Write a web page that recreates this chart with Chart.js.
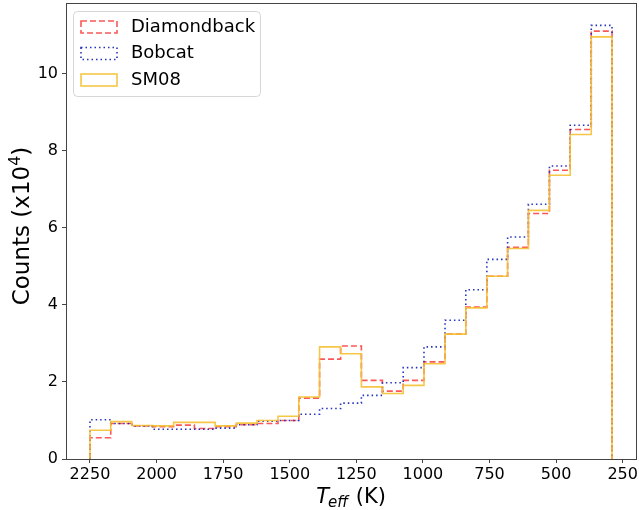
<!DOCTYPE html>
<html>
<head>
<meta charset="utf-8">
<script src="https://cdn.jsdelivr.net/npm/chart.js@4/dist/chart.umd.min.js"></script>
<style>
  html, body { margin: 0; padding: 0; background: #fff; }
  #wrap { width: 639px; height: 510px; }
</style>
</head>
<body>
<div id="wrap"><canvas id="teff" width="639" height="510"></canvas></div>
<script>
// bin edges in K (25 bins, hot to cold)
const binEdges = [2250, 2172, 2093, 2015, 1936, 1858, 1780, 1701, 1623, 1544, 1466, 1388, 1309,
  1231, 1152, 1074, 996, 917, 839, 760, 682, 604, 525, 447, 368, 290];

// counts in units of 10^4, one per bin
const diamondback = [0.55, 0.92, 0.86, 0.84, 0.88, 0.79, 0.84, 0.89, 0.92, 1.00, 1.58, 2.59, 2.93,
  2.04, 1.76, 2.04, 2.52, 3.24, 3.94, 4.74, 5.49, 6.37, 7.49, 8.55, 11.10];
const bobcat = [1.02, 0.92, 0.86, 0.77, 0.77, 0.77, 0.80, 0.89, 0.98, 1.00, 1.16, 1.31, 1.45,
  1.65, 1.98, 2.37, 2.91, 3.60, 4.39, 5.18, 5.76, 6.61, 7.60, 8.66, 11.25];
const sm08 = [0.745, 0.97, 0.87, 0.86, 0.95, 0.95, 0.86, 0.93, 1.00, 1.11, 1.61, 2.91, 2.73,
  1.87, 1.70, 1.91, 2.47, 3.24, 3.92, 4.74, 5.46, 6.45, 7.36, 8.42, 10.95];

const xTicks = [2250, 2000, 1750, 1500, 1250, 1000, 750, 500, 250];
const yTicks = [0, 2, 4, 6, 8, 10];

// outline of a step histogram
function stepPoints(counts) {
  const pts = [{ x: binEdges[0], y: 0 }];
  counts.forEach((c, i) => pts.push({ x: binEdges[i + 1], y: c }));
  pts.push({ x: binEdges[binEdges.length - 1], y: 0 });
  return pts;
}

const FONT = "'DejaVu Sans', sans-serif";

const series = [
  { label: 'Diamondback', data: diamondback, color: 'rgba(250,70,70,0.9)', dash: [6, 3] },
  { label: 'Bobcat', data: bobcat, color: 'rgba(25,40,185,0.95)', dash: [1.5, 3] },
  { label: 'SM08', data: sm08, color: 'rgba(245,192,50,0.9)', dash: [] },
];

const frameAndText = {
  id: 'frameAndText',
  afterDraw(chart) {
    const ctx = chart.ctx;
    const a = chart.chartArea;
    ctx.save();
    // axes frame
    ctx.strokeStyle = '#444';
    ctx.lineWidth = 1;
    ctx.strokeRect(Math.round(a.left) + 0.5, Math.round(a.top) + 0.5,
      Math.round(a.right - a.left), Math.round(a.bottom - a.top));

    // legend
    const lx = 73.5, ly = 11.5, lw = 187, lh = 85;
    ctx.beginPath();
    ctx.roundRect(lx, ly, lw, lh, 4);
    ctx.fillStyle = 'rgba(255,255,255,0.85)';
    ctx.fill();
    ctx.strokeStyle = '#d6d6d6';
    ctx.stroke();
    series.forEach((s, i) => {
      const cy = 27 + i * 26.5;
      ctx.strokeStyle = s.color;
      ctx.lineWidth = 1.6;
      ctx.setLineDash(s.dash);
      ctx.strokeRect(81, cy - 6, 36, 12);
      ctx.setLineDash([]);
      ctx.fillStyle = '#000';
      ctx.font = '18px ' + FONT;
      ctx.textBaseline = 'middle';
      ctx.textAlign = 'left';
      ctx.fillText(s.label, 131, cy);
    });

    // x title: T_eff (K)
    ctx.fillStyle = '#000';
    ctx.textBaseline = 'alphabetic';
    ctx.font = 'italic 21px ' + FONT;
    const tW = ctx.measureText('T').width;
    ctx.font = 'italic 15px ' + FONT;
    const sW = ctx.measureText('eff').width;
    ctx.font = '21px ' + FONT;
    const kW = ctx.measureText(' (K)').width;
    let x = (a.left + a.right) / 2 - (tW + sW + kW) / 2;
    const base = 503;
    ctx.font = 'italic 21px ' + FONT;
    ctx.fillText('T', x, base);
    x += tW;
    ctx.font = 'italic 15px ' + FONT;
    ctx.fillText('eff', x - 1, base + 4);
    x += sW;
    ctx.font = '21px ' + FONT;
    ctx.fillText(' (K)', x, base);

    // y title: Counts (x10^4)
    ctx.save();
    ctx.translate(29, 226);
    ctx.rotate(-Math.PI / 2);
    ctx.textBaseline = 'alphabetic';
    ctx.textAlign = 'left';
    const big = '23px ' + FONT, small = '16px ' + FONT;
    ctx.font = big;
    const w1 = ctx.measureText('Counts (x10').width;
    const w3 = ctx.measureText(')').width;
    ctx.font = small;
    const w2 = ctx.measureText('4').width;
    let yx = -(w1 + w2 + w3) / 2;
    ctx.font = big;
    ctx.fillText('Counts (x10', yx, 0);
    yx += w1;
    ctx.font = small;
    ctx.fillText('4', yx, -9);
    yx += w2;
    ctx.font = big;
    ctx.fillText(')', yx, 0);
    ctx.restore();
    ctx.restore();
  }
};

new Chart(document.getElementById('teff'), {
  type: 'line',
  data: {
    datasets: series.map((s, i) => ({
      label: s.label,
      data: stepPoints(s.data),
      borderColor: s.color,
      backgroundColor: 'transparent',
      borderWidth: 1.6,
      borderDash: s.dash,
      stepped: 'after',
      fill: false,
      pointRadius: 0,
      tension: 0,
      order: 3 - i,
    })),
  },
  options: {
    responsive: false,
    animation: false,
    layout: { padding: { top: 3, right: 3, left: 0, bottom: 0 } },
    plugins: {
      legend: { display: false },
      tooltip: { enabled: false },
    },
    scales: {
      x: {
        type: 'linear',
        reverse: true,
        min: 200,
        max: 2340,
        afterBuildTicks: (scale) => { scale.ticks = xTicks.map(v => ({ value: v })); },
        afterFit: (scale) => { scale.height = 51; scale.paddingLeft = 0; scale.paddingRight = 0; },
        grid: { drawOnChartArea: false, tickLength: 4, color: '#444' },
        border: { display: false },
        ticks: {
          color: '#000', font: { family: FONT, size: 16 }, padding: 2, maxRotation: 0,
          callback: (v) => String(v),
        },
      },
      y: {
        min: 0,
        max: 11.83,
        afterBuildTicks: (scale) => { scale.ticks = yTicks.map(v => ({ value: v })); },
        afterFit: (scale) => { scale.width = 66; scale.paddingTop = 0; scale.paddingBottom = 0; },
        grid: { drawOnChartArea: false, tickLength: 4, color: '#444' },
        border: { display: false },
        ticks: {
          color: '#000', font: { family: FONT, size: 16 }, padding: 4,
          callback: (v) => String(v),
        },
      },
    },
  },
  plugins: [frameAndText],
});
</script>
</body>
</html>
